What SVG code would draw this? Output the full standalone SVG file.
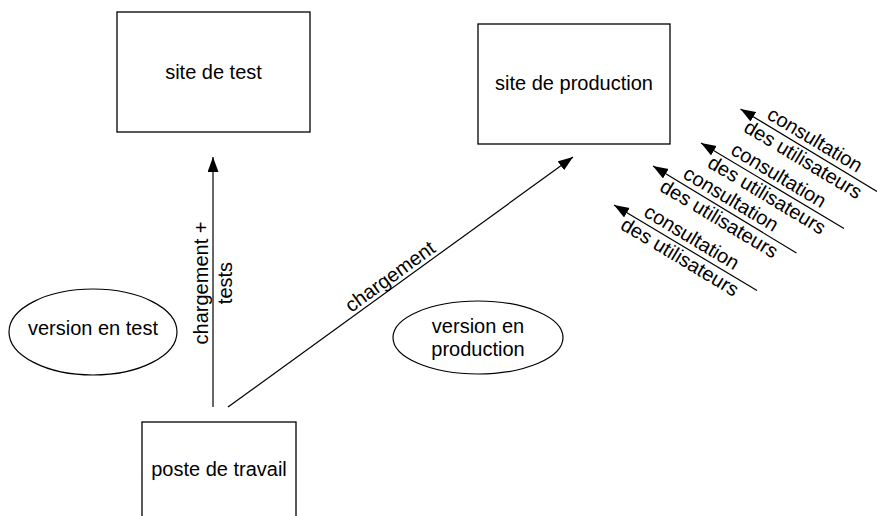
<svg xmlns="http://www.w3.org/2000/svg" width="877" height="516" viewBox="0 0 877 516">
  <style>
    .box { fill: #ffffff; stroke: #000000; stroke-width: 1.3; }
    .ell { fill: #ffffff; stroke: #000000; stroke-width: 1.2; }
    .t { font-family: "Liberation Sans", Arial, sans-serif; font-size: 20px; fill: #000000; text-anchor: middle; }
    .edge { fill: none; stroke: #000000; stroke-width: 1.2; marker-end: url(#ah); }
  </style>
  <defs>
    <marker id="ah" markerWidth="16" markerHeight="12" refX="15" refY="5.5" orient="auto" markerUnits="userSpaceOnUse">
      <path d="M0,0 L15,5.5 L0,11 z" fill="#000000"/>
    </marker>
  </defs>
  <rect width="877" height="516" fill="#ffffff"/>

  <g id="site-de-test">
    <rect class="box" x="117" y="12" width="193" height="120"/>
    <text class="t" x="213.5" y="79">site de test</text>
  </g>
  <g id="site-de-production">
    <rect class="box" x="478" y="24" width="192" height="120"/>
    <text class="t" x="574" y="90">site de production</text>
  </g>
  <g id="poste-de-travail">
    <rect class="box" x="142" y="422" width="154" height="110"/>
    <text class="t" x="219" y="476">poste de travail</text>
  </g>
  <g id="version-en-test">
    <ellipse class="ell" cx="93" cy="332" rx="84" ry="43"/>
    <text class="t" x="93" y="335">version en test</text>
  </g>
  <g id="version-en-production">
    <ellipse class="ell" cx="478" cy="337.5" rx="85" ry="36.5"/>
    <text class="t" x="478" y="333">version en</text>
    <text class="t" x="478" y="356">production</text>
  </g>

  <g id="connectors">
    <line class="edge" x1="213" y1="407" x2="213" y2="157"/>
    <line class="edge" x1="228" y1="407" x2="573" y2="157"/>
    <line class="edge" x1="877" y1="191.5" x2="740.5" y2="109"/>
    <line class="edge" x1="844" y1="228.5" x2="701" y2="143"/>
    <line class="edge" x1="796.5" y1="253" x2="653" y2="166"/>
    <line class="edge" x1="757" y1="290.5" x2="614" y2="205"/>
  </g>

  <g id="connector-labels">
    <g transform="translate(213,283) rotate(-90)">
      <text class="t" x="0" y="-5">chargement +</text>
      <text class="t" x="0" y="18.5">tests</text>
    </g>
    <text class="t" transform="translate(394,282) rotate(-35.9)" x="0" y="0">chargement</text>
    <g transform="translate(808.75,150.25) rotate(31)">
      <text class="t" x="0" y="-5.5">consultation</text>
      <text class="t" x="0" y="17.5">des utilisateurs</text>
    </g>
    <g transform="translate(772.5,185.75) rotate(31)">
      <text class="t" x="0" y="-5.5">consultation</text>
      <text class="t" x="0" y="17.5">des utilisateurs</text>
    </g>
    <g transform="translate(724.75,209.5) rotate(31)">
      <text class="t" x="0" y="-5.5">consultation</text>
      <text class="t" x="0" y="17.5">des utilisateurs</text>
    </g>
    <g transform="translate(685.5,247.75) rotate(31)">
      <text class="t" x="0" y="-5.5">consultation</text>
      <text class="t" x="0" y="17.5">des utilisateurs</text>
    </g>
  </g>
</svg>
